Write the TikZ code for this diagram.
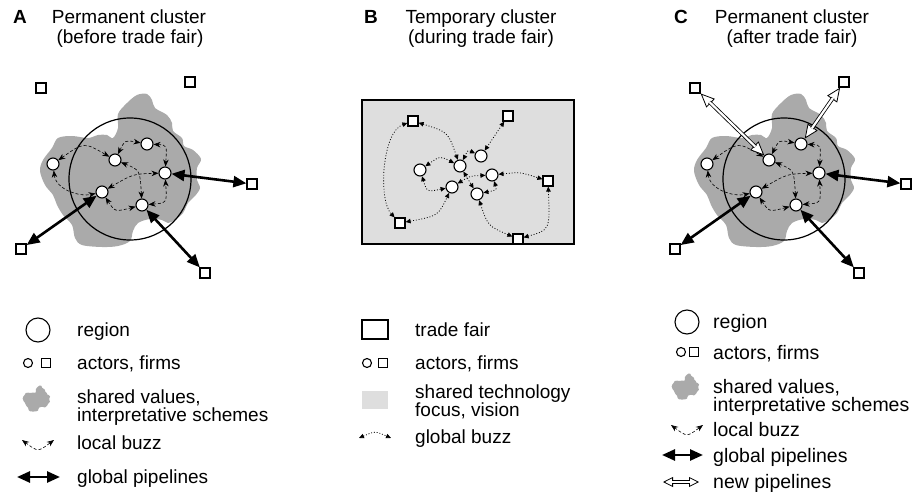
\documentclass[tikz,border=0pt]{standalone}
\usepackage{fontspec}
\setmainfont{Liberation Sans}
\usetikzlibrary{arrows.meta}
\definecolor{blobgray}{RGB}{170,170,170}
\definecolor{fairgray}{RGB}{222,222,222}
\tikzset{
  actor/.style={circle, draw, line width=1.1pt, fill=white, minimum size=12pt, inner sep=0pt},
  smallactor/.style={circle, draw, line width=1.1pt, fill=white, minimum size=9pt, inner sep=0pt},
  firm/.style={rectangle, draw, line width=1.2pt, fill=white, minimum size=10pt, inner sep=0pt},
  regioncircle/.style={circle, draw, line width=1.2pt, minimum size=122pt, inner sep=0pt},
  legcircle/.style={circle, draw, line width=1.1pt, minimum size=24pt, inner sep=0pt},
  buzz/.style={line width=0.6pt, dash pattern=on 3pt off 2pt, {Stealth[length=7pt,width=5.5pt]}-{Stealth[length=7pt,width=5.5pt]}},
  gbuzz/.style={line width=0.8pt, dash pattern=on 0.9pt off 1.9pt, {Triangle[length=5pt,width=4.5pt]}-{Triangle[length=5pt,width=4.5pt]}},
  pipe/.style={line width=2.6pt, {Triangle[length=13pt,width=11pt]}-{Triangle[length=13pt,width=11pt]}},
  newpipeout/.style={line width=0.8pt, {Triangle[open,fill=white,length=14pt,width=12pt]}-{Triangle[open,fill=white,length=14pt,width=12pt]}},
  newpipein/.style={double=white, double distance=2.2pt, line width=0.8pt, shorten <=12.5pt, shorten >=12.5pt},
  legnewout/.style={line width=0.8pt, {Triangle[open,fill=white,length=10pt,width=10pt]}-{Triangle[open,fill=white,length=10pt,width=10pt]}},
  legnewin/.style={double=white, double distance=2pt, line width=0.7pt, shorten <=9pt, shorten >=9pt},
  lbl/.style={font=\fontsize{19}{18}\selectfont, anchor=base west, align=left, inner sep=0pt},
  lblc/.style={font=\fontsize{19.5}{18}\selectfont, anchor=base west, align=left, inner sep=0pt},
  ttl/.style={font=\fontsize{19}{20}\selectfont, anchor=base, inner sep=0pt},
  letter/.style={font=\fontsize{19}{20}\selectfont\bfseries, anchor=base, inner sep=0pt},
}
\newcommand\blobpath{plot[smooth cycle, tension=0.55] coordinates {(-12,-65) (-3,-76) (7,-84) (17,-85) (22,-79) (25,-71) (37,-64) (42,-56) (43,-48) (52,-41) (54,-33) (63,-29) (71,-20) (67,-11) (67,1) (70,9) (65,17) (58,24) (53,34) (45,41) (38,44) (32,41) (20,40) (8,44) (3,52) (0,62) (-12,67) (-28,68) (-48,66) (-55,59) (-58,46) (-67,36) (-73,26) (-77,16) (-85,6) (-90,-8) (-87,-19) (-78,-31) (-72,-41) (-58,-43) (-42,-41) (-32,-44) (-23,-44) (-17,-41) (-12,-51)}}
\newcommand\clusterbody{%
  \begin{scope}[shift={(130,179)}]
    \fill[blobgray] \blobpath;
  \end{scope}
  \node[regioncircle] (R) at (130,179) {};
  \node[actor] (a1) at (53,164) {};
  \node[actor] (a2) at (115,160) {};
  \node[actor] (a3) at (147,144) {};
  \node[actor] (a4) at (165,173) {};
  \node[actor] (a5) at (102,192) {};
  \node[actor] (a6) at (142,205) {};
  \node[firm] (f1) at (41,88) {};
  \node[firm] (f2) at (190,82) {};
  \node[firm] (f3) at (252,184) {};
  \node[firm] (f4) at (21,249) {};
  \node[firm] (f5) at (205,273) {};
  \draw[buzz] (a1) .. controls (84,142) .. (a2);
  \draw[buzz] (a1) .. controls (56,190) and (80,197) .. (a5);
  \draw[buzz] (a2) .. controls (125,140) .. (a3);
  \draw[buzz] (a3) .. controls (167,145) .. (a4);
  \draw[buzz] (a5) .. controls (133,174) .. (a4);
  \draw[buzz] (a2) .. controls (140,170) .. (a6);
  \draw[buzz] (a5) .. controls (115,212) .. (a6);
  \draw[buzz] (a6) .. controls (167,203) .. (a4);
  \draw[pipe] (a4) -- (f3);
  \draw[pipe] (a5) -- (f4);
  \draw[pipe] (a6) -- (f5);
}
\begin{document}
\begin{tikzpicture}[x=1pt, y=-1pt]
\useasboundingbox (0,0) rectangle (919,492);
% ---------- titles
\node[letter] (tA) at (20,24) {A};
\node[ttl] (tA1) at (129,24) {Permanent cluster};
\node[ttl] (tA2) at (130,44) {(before trade fair)};
\node[letter] (tB) at (371,24) {B};
\node[ttl] (tB1) at (481,24) {Temporary cluster};
\node[ttl] (tB2) at (481,44) {(during trade fair)};
\node[letter] (tC) at (681,24) {C};
\node[ttl] (tC1) at (792,24) {Permanent cluster};
\node[ttl] (tC2) at (792,44) {(after trade fair)};
% ---------- panel A
\begin{scope}[name prefix=A-]
  \clusterbody
\end{scope}
% ---------- panel C
\begin{scope}[xshift=654pt, name prefix=C-]
  \clusterbody
\end{scope}
\draw[newpipeout] (C-f1) -- (C-a2);
\draw[newpipein] (C-f1) -- (C-a2);
\draw[newpipeout] (C-f2) -- (C-a3);
\draw[newpipein] (C-f2) -- (C-a3);
% ---------- panel B
\node[draw, line width=1.2pt, fill=fairgray, minimum width=212pt, minimum height=144pt, inner sep=0pt] (fair) at (468,172) {};
\node[firm] (s1) at (413,121) {};
\node[firm] (s2) at (508,116) {};
\node[firm] (s3) at (548,181) {};
\node[firm] (s4) at (400,223) {};
\node[firm] (s5) at (518,239) {};
\node[actor] (b1) at (481,156) {};
\node[actor] (b2) at (460,166) {};
\node[actor] (b3) at (420,170) {};
\node[actor] (b4) at (492,175) {};
\node[actor] (b5) at (452,187) {};
\node[actor] (b6) at (477,194) {};
\draw[gbuzz] (s1) .. controls (448,132) .. (b2);
\draw[gbuzz] (s1) .. controls (382,132) and (378,200) .. (s4);
\draw[gbuzz] (s2) -- (b1);
\draw[gbuzz] (b1) .. controls (468,150) .. (b2);
\draw[gbuzz] (b2) .. controls (440,156) .. (b3);
\draw[gbuzz] (b3) .. controls (427,192) .. (b5);
\draw[gbuzz] (b5) .. controls (470,176) .. (b4);
\draw[gbuzz] (b2) -- (b6);
\draw[gbuzz] (b4) .. controls (497,190) .. (b6);
\draw[gbuzz] (b4) .. controls (520,172) .. (s3);
\draw[gbuzz] (s4) .. controls (438,216) .. (b5);
\draw[gbuzz] (b6) .. controls (488,226) .. (s5);
\draw[gbuzz] (s5) .. controls (550,230) .. (s3);
% ---------- legend A
\node[legcircle] (LAr) at (38,330) {};
\node[lbl] (LAt1) at (77,336.5) {region};
\node[smallactor] (LAa) at (28,363) {};
\node[firm, minimum size=9pt] (LAf) at (46,363) {};
\node[lbl] (LAt2) at (77,369.5) {actors, firms};
\begin{scope}[shift={(38,400)}, scale=0.17]
  \fill[blobgray] \blobpath;
\end{scope}
\node[lbl] (LAt3) at (77,421.5) {shared values,\\interpretative schemes};
\coordinate (LAb1) at (22,440);
\coordinate (LAb2) at (54,440);
\draw[buzz] (LAb1) .. controls (38,452) .. (LAb2);
\node[lbl] (LAt4) at (77,449.5) {local buzz};
\coordinate (LAp1) at (17,477);
\coordinate (LAp2) at (60,477);
\draw[pipe] (LAp1) -- (LAp2);
\node[lbl] (LAt5) at (77,483.5) {global pipelines};
% ---------- legend B
\node[draw, line width=1.2pt, minimum width=26pt, minimum height=19pt, inner sep=0pt] (LBr) at (375,329.5) {};
\node[lbl] (LBt1) at (415,336.5) {trade fair};
\node[smallactor] (LBa) at (367,363) {};
\node[firm, minimum size=9pt] (LBf) at (383,363) {};
\node[lbl] (LBt2) at (415,369.5) {actors, firms};
\node[fill=fairgray, minimum width=26pt, minimum height=18pt, inner sep=0pt] (LBg) at (375,400) {};
\node[lbl] (LBt3) at (415,416.5) {shared technology\\focus, vision};
\coordinate (LBb1) at (359,438);
\coordinate (LBb2) at (391,438);
\draw[gbuzz] (LBb1) .. controls (375,431) .. (LBb2);
\node[lbl] (LBt4) at (415,443.5) {global buzz};
% ---------- legend C
\node[legcircle] (LCr) at (687,322) {};
\node[lblc] (LCt1) at (713,328) {region};
\node[smallactor] (LCa) at (681,352) {};
\node[firm, minimum size=9pt] (LCf) at (694,352) {};
\node[lblc] (LCt2) at (713,359) {actors, firms};
\begin{scope}[shift={(687,388)}, scale=0.17]
  \fill[blobgray] \blobpath;
\end{scope}
\node[lblc] (LCt3) at (713,411) {shared values,\\interpretative schemes};
\coordinate (LCb1) at (671,425);
\coordinate (LCb2) at (703,425);
\draw[buzz] (LCb1) .. controls (687,437) .. (LCb2);
\node[lblc] (LCt4) at (713,436) {local buzz};
\coordinate (LCp1) at (662,455);
\coordinate (LCp2) at (703,455);
\draw[pipe] (LCp1) -- (LCp2);
\node[lblc] (LCt5) at (713,462) {global pipelines};
\coordinate (LCn1) at (663,482);
\coordinate (LCn2) at (699,482);
\draw[legnewout] (LCn1) -- (LCn2);
\draw[legnewin] (LCn1) -- (LCn2);
\node[lblc] (LCt6) at (713,488.5) {new pipelines};
\end{tikzpicture}
\end{document}
